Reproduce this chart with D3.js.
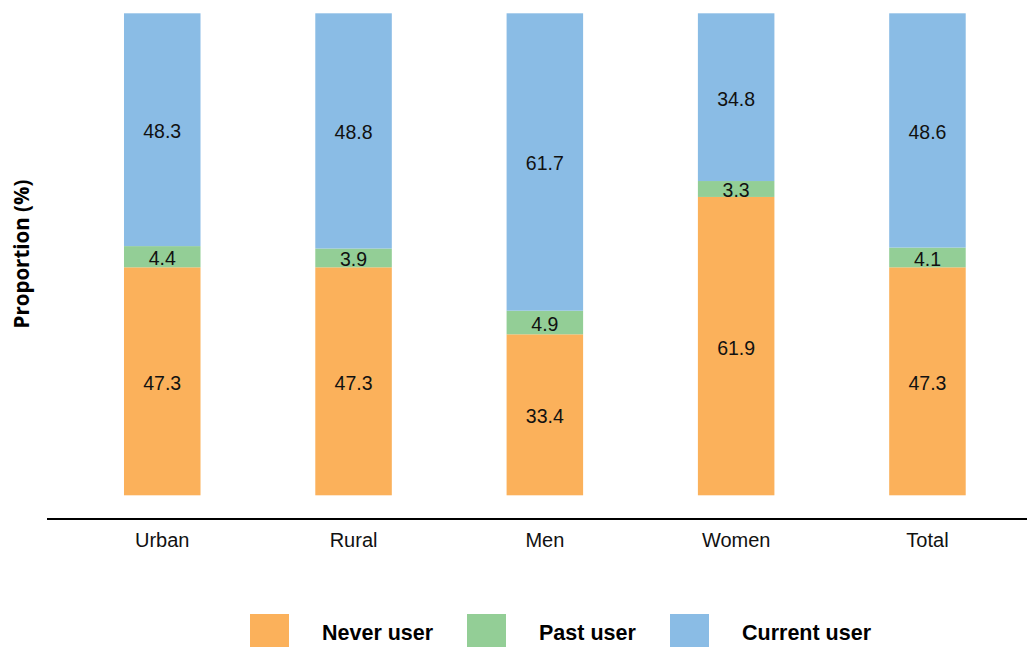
<!DOCTYPE html>
<html><head><meta charset="utf-8">
<script src="https://cdn.jsdelivr.net/npm/d3@7"></script>
<style>body{margin:0;background:#fff}svg{display:block}</style>
</head><body>
<svg id="c" width="1027" height="647"></svg>
<script>
const categories = ["Urban","Rural","Men","Women","Total"];
const seriesNames = ["Never user","Past user","Current user"];
const neverUser = [47.3,47.3,33.4,61.9,47.3];
const pastUser = [4.4,3.9,4.9,3.3,4.1];
const currentUser = [48.3,48.8,61.7,34.8,48.6];
const colors = ["#FBB15B","#93CE96","#8ABCE5"];

const rows = categories.map((c,i)=>({cat:c,"Never user":neverUser[i],"Past user":pastUser[i],"Current user":currentUser[i]}));
const stack = d3.stack().keys(seriesNames)(rows);

const svg = d3.select("#c");
const x = d3.scaleBand().domain(categories).range([66.6,1023.1]).paddingInner(0.6).paddingOuter(0.3);
const y = d3.scaleLinear().domain([0,100]).range([495.3,13.3]);

const g = svg.append("g");
stack.forEach((s,si)=>{
  g.selectAll(null).data(s).enter().append("rect")
    .attr("x",d=>x(d.data.cat)).attr("width",x.bandwidth())
    .attr("y",d=>y(d[1])).attr("height",d=>y(d[0])-y(d[1]))
    .attr("fill",colors[si]);
  g.selectAll(null).data(s).enter().append("text")
    .attr("x",d=>x(d.data.cat)+x.bandwidth()/2)
    .attr("y",d=>(y(d[0])+y(d[1]))/2+1.5)
    .attr("text-anchor","middle").attr("dominant-baseline","central")
    .attr("font-family","Liberation Sans, Arial, sans-serif").attr("font-size",19.5)
    .attr("fill","#111")
    .text(d=>(d[1]-d[0]).toFixed(1));
});

// x axis
const ax = svg.append("g").attr("transform","translate(0,519)")
  .call(d3.axisBottom(x).tickSize(0).tickPadding(14));
ax.select(".domain").remove();
ax.append("line").attr("x1",47).attr("x2",1027).attr("y1",0).attr("y2",0).attr("stroke","#000").attr("stroke-width",2);
ax.selectAll(".tick text").attr("font-family","Liberation Sans, Arial, sans-serif").attr("font-size",20).attr("fill","#111");

// y label
svg.append("text").attr("transform","translate(29,254) rotate(-90)")
  .attr("text-anchor","middle").attr("font-family","Open Sans, sans-serif").attr("font-weight","bold")
  .attr("font-size",20.5).attr("fill","#000").text("Proportion (%)");

// legend
const legX = [250,467,670];
const leg = svg.append("g");
seriesNames.forEach((n,i)=>{
  leg.append("rect").attr("x",legX[i]).attr("y",614).attr("width",39).attr("height",33).attr("fill",colors[i]);
  leg.append("text").attr("x",legX[i]+72).attr("y",633).attr("dominant-baseline","central")
    .attr("font-family","Liberation Sans, Arial, sans-serif").attr("font-weight","bold").attr("font-size",21.5)
    .attr("fill","#000").text(n);
});
</script>
</body></html>
